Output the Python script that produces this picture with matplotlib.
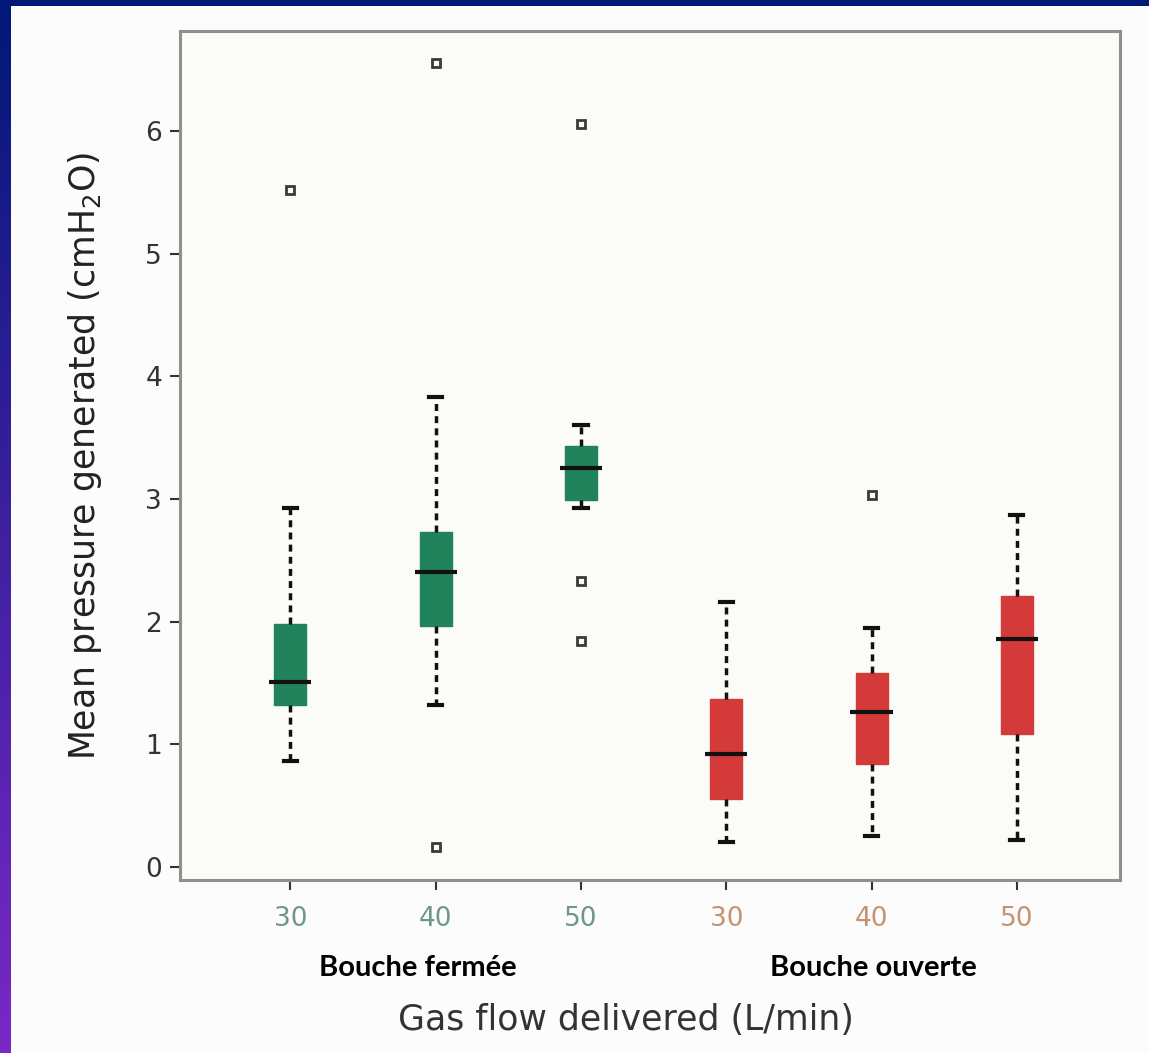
import matplotlib
matplotlib.use("Agg")
import matplotlib.pyplot as plt
import numpy as np
from matplotlib import font_manager as fm
from matplotlib.patches import Rectangle

# ---------------- data ----------------
groups = ["Bouche fermée", "Bouche ouverte"]
flows = ["30", "40", "50", "30", "40", "50"]
whis_lo = [0.86, 1.32, 2.93, 0.20, 0.25, 0.22]
q1 = [1.32, 1.96, 2.99, 0.55, 0.84, 1.08]
median = [1.51, 2.40, 3.25, 0.92, 1.26, 1.86]
q3 = [1.98, 2.73, 3.43, 1.37, 1.58, 2.21]
whis_hi = [2.93, 3.83, 3.60, 2.16, 1.95, 2.87]
outliers = [[5.52], [6.56, 0.16], [6.06, 2.33, 1.84], [], [3.03], []]
box_colors = ["#21835b", "#21835b", "#21835b", "#d43a3a", "#d43a3a", "#d43a3a"]
tick_colors = ["#6e978c", "#6e978c", "#6e978c", "#c49270", "#c49270", "#c49270"]
yticks = [0, 1, 2, 3, 4, 5, 6]

# ---------------- fonts ----------------
avail = {f.name for f in fm.fontManager.ttflist}
narrow = "Liberation Sans Narrow" if "Liberation Sans Narrow" in avail else "DejaVu Sans"
boldfont = "Lato" if "Lato" in avail else "DejaVu Sans"

W, H = 1149, 1053
fig = plt.figure(figsize=(W / 100, H / 100), dpi=100)

# background gradient (blue -> purple) and white panel
bg = fig.add_axes([0, 0, 1, 1])
bg.set_axis_off()
top_c = np.array([0x00, 0x18, 0x78]) / 255
bot_c = np.array([0x7a, 0x28, 0xc8]) / 255
t = np.linspace(0, 1, 256)[:, None]
grad = top_c[None, :] * (1 - t) + bot_c[None, :] * t
bg.imshow(grad[:, None, :], aspect="auto", extent=[0, 1, 0, 1], origin="upper")
bg.add_patch(Rectangle((11 / W, 0), 1 - 11 / W, 1 - 6 / H, facecolor="#fcfcfc",
                       edgecolor="none", transform=bg.transAxes))
bg.set_xlim(0, 1)
bg.set_ylim(0, 1)

# main axes
ax = fig.add_axes([180 / W, (H - 880) / H, (1120 - 180) / W, (880 - 31) / H])
ax.set_facecolor("#fbfbf8")
positions = np.arange(1, len(flows) + 1)

stats = []
for i in range(len(flows)):
    stats.append(dict(med=median[i], q1=q1[i], q3=q3[i], whislo=whis_lo[i],
                      whishi=whis_hi[i], fliers=outliers[i]))

bp = ax.bxp(stats, positions=positions, widths=0.22, patch_artist=True,
            showfliers=True,
            whiskerprops=dict(color="#111111", linewidth=2.5, linestyle=(0, (2.0, 1.5))),
            capprops=dict(color="#111111", linewidth=3),
            medianprops=dict(color="none"),
            flierprops=dict(marker="s", markersize=6, markerfacecolor="none",
                            markeredgecolor="#3a3a3a", markeredgewidth=2))
for patch, c in zip(bp["boxes"], box_colors):
    patch.set_facecolor(c)
    patch.set_edgecolor(c)
    patch.set_linewidth(1)
for cap in bp["caps"]:
    x = cap.get_xdata()
    mid = np.mean(x)
    cap.set_xdata([mid - 0.045, mid + 0.045])

ax.hlines(median, positions - 0.145, positions + 0.145, colors="#111111", linewidth=3, zorder=5)

ax.set_xlim(0.24, 6.71)
ax.set_ylim(-0.11, 6.82)
ax.set_xticks(positions)
ax.set_xticklabels(flows, fontsize=19, family=narrow)
for lab, c in zip(ax.get_xticklabels(), tick_colors):
    lab.set_color(c)
ax.set_yticks(yticks)
ax.set_yticklabels([str(v) for v in yticks], fontsize=19, family=narrow, color="#333333")
ax.tick_params(axis="both", direction="out", length=7, width=1.5, color="#333333", pad=6)
ax.tick_params(axis="x", pad=12)
for s in ax.spines.values():
    s.set_color("#8f8f8f")
    s.set_linewidth(2.2)

ax.set_ylabel("Mean pressure generated (cmH$_2$O)", fontsize=25, family=narrow,
              color="#222222", labelpad=30)
fig.text(626 / W, 1 - 1020 / H, "Gas flow delivered (L/min)", fontsize=25,
         family=narrow, color="#333333", ha="center", va="center")

fig.text(418 / W, 1 - 968 / H, groups[0], fontsize=21, fontweight="bold",
         family=boldfont, color="black", ha="center", va="center")
fig.text(873 / W, 1 - 968 / H, groups[1], fontsize=21, fontweight="bold",
         family=boldfont, color="black", ha="center", va="center")

fig.savefig("out.png", dpi=100)
